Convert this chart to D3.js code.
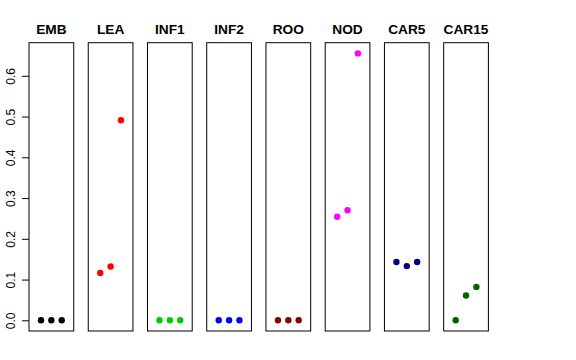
<!DOCTYPE html>
<html>
<head>
<meta charset="utf-8">
<script src="https://cdn.jsdelivr.net/npm/d3@7"></script>
<style>
  body { margin: 0; background: #fff; }
  text { font-family: "Liberation Sans", Arial, sans-serif; }
</style>
</head>
<body>
<svg id="chart" width="576" height="360"></svg>
<script>
// tissues and their point colours
var tissues = ['EMB', 'LEA', 'INF1', 'INF2', 'ROO', 'NOD', 'CAR5', 'CAR15'];
var colors = ['#000000', '#FF0000', '#00CD00', '#0000FF', '#8B0000', '#FF00FF', '#000080', '#006400'];

// three replicates per tissue
var rep1 = [0, 0.116, 0, 0, 0, 0.254, 0.143, 0];
var rep2 = [0, 0.132, 0, 0, 0, 0.270, 0.133, 0.061];
var rep3 = [0, 0.491, 0, 0, 0, 0.655, 0.143, 0.082];

var yTicks = [0, 0.1, 0.2, 0.3, 0.4, 0.5, 0.6];

var svg = d3.select('#chart');

var plotTop = 42.7, plotBottom = 331;

// same y range for every panel (data range + 4%)
var ymax = d3.max(rep1.concat(rep2, rep3));
var pad = ymax * 0.04;
var y = d3.scaleLinear().domain([-pad, ymax + pad]).range([plotBottom, plotTop]);

// panel positions
var panel = d3.scaleBand().domain(tissues).range([29, 488.4]).paddingInner(0.245).paddingOuter(0);
var bw = panel.bandwidth();

// x inside a panel: replicate 1..3 on a 0..4 range, expanded 4%
var x = d3.scaleLinear().domain([-0.16, 4.16]).range([0, bw]);

tissues.forEach(function(t, i) {
    var g = svg.append('g').attr('transform', 'translate(' + panel(t) + ',0)');

    var pts = [rep1[i], rep2[i], rep3[i]];
    g.selectAll('circle').data(pts).enter().append('circle')
        .attr('cx', function(d, j) { return x(j + 1); })
        .attr('cy', function(d) { return y(d); })
        .attr('r', 3.2)
        .attr('fill', colors[i]);

    g.append('rect')
        .attr('x', 0).attr('y', plotTop)
        .attr('width', bw).attr('height', plotBottom - plotTop)
        .attr('fill', 'none').attr('stroke', '#000').attr('stroke-width', 1);

    g.append('text')
        .attr('x', bw / 2).attr('y', 34)
        .attr('text-anchor', 'middle')
        .attr('font-weight', 'bold')
        .attr('font-size', 13.7)
        .text(t);
});

// left axis, ticks only
var axis = svg.append('g').attr('transform', 'translate(29,0)')
    .call(d3.axisLeft(y).tickValues(yTicks).tickSize(7).tickFormat(d3.format('.1f')));
axis.select('.domain').remove();
axis.selectAll('.tick line').attr('stroke', '#000');
axis.selectAll('.tick text')
    .attr('font-size', 12)
    .attr('fill', '#000')
    .attr('x', 0).attr('dy', 0)
    .attr('text-anchor', 'middle')
    .attr('transform', 'translate(-14,0) rotate(-90)')
    .attr('font-family', '"Liberation Sans", Arial, sans-serif');
</script>
</body>
</html>
